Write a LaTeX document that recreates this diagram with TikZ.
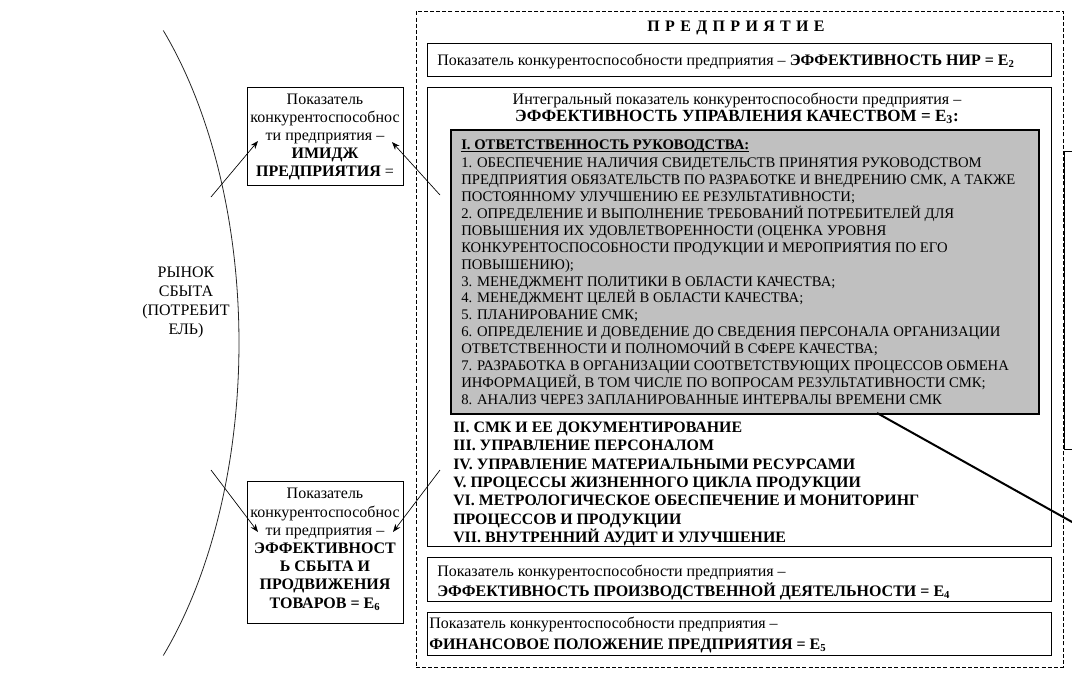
\documentclass[tikz,border=0pt]{standalone}
\usepackage{fontspec}
\setmainfont{Liberation Serif}
\usetikzlibrary{fit,arrows.meta}
\begin{document}
\begin{tikzpicture}[x=0.75pt,y=-0.75pt,
  box/.style={draw, line width=0.7pt, inner sep=0pt},
  dashbox/.style={draw, line width=0.6pt, dash pattern=on 3pt off 1.6pt, inner sep=0pt},
  graybox/.style={draw, line width=0.8pt, fill={rgb,255:red,192;green,192;blue,192}, inner sep=0pt},
  reg/.style={inner sep=0pt, anchor=base west, font=\fontsize{12}{14}\selectfont},
  regc/.style={inner sep=0pt, anchor=base, font=\fontsize{12}{14}\selectfont},
  gline/.style={inner sep=0pt, anchor=base west, font=\fontsize{11}{13}\selectfont},
  bitem/.style={inner sep=0pt, anchor=base west, font=\fontsize{11.9}{14}\selectfont\bfseries},
  arr/.style={-{Stealth[length=6pt,width=4.5pt]}, line width=0.5pt},
  thick line/.style={line width=1.5pt}
]
\useasboundingbox (0,0) rectangle (1072,675);

% market arc
\draw[line width=0.6pt, black!85] plot[domain=-46.9:46.9, samples=80] ({239*cos(\x)}, {343+428*sin(\x)});
\node[regc] (m1) at (186,277) {РЫНОК};
\node[regc] (m2) at (186,296) {СБЫТА};
\node[regc] (m3) at (186,315) {(ПОТРЕБИТ};
\node[regc] (m4) at (186,334) {ЕЛЬ)};

% enterprise dashed frame
\node[dashbox, fit={(416,11) (1063,667)}] (ent) {};
\node[regc, font=\fontsize{12}{14}\selectfont\bfseries] (title) at (736,31) {П\,\,Р\,\,Е\,\,Д\,\,П\,\,Р\,\,И\,\,Я\,\,Т\,\,И\,\,Е};

% E2 box
\node[box, fit={(427,43) (1051,76)}] (e2box) {};
\node[reg] (e2t) at (437,65) {Показатель конкурентоспособности предприятия – \textbf{ЭФФЕКТИВНОСТЬ НИР = E\textsubscript{2}}};

% integral box
\node[box, fit={(427,87) (1051,546)}] (e3box) {};
\node[regc] (e3a) at (737,104) {Интегральный показатель конкурентоспособности предприятия –};
\node[regc, font=\fontsize{12.8}{14}\selectfont\bfseries] (e3b) at (737,121) {ЭФФЕКТИВНОСТЬ УПРАВЛЕНИЯ КАЧЕСТВОМ = E\textsubscript{3}:};

% gray box
\node[graybox, fit={(451,130) (1039,414)}] (gbox) {};
\node[gline, font=\fontsize{11}{13}\selectfont\bfseries] (ghead) at (461,149) {I. ОТВЕТСТВЕННОСТЬ РУКОВОДСТВА:};
\draw[line width=0.8pt] ([yshift=-1.6pt]ghead.base west) -- ([yshift=-1.6pt]ghead.base east);
\foreach \t [count=\i from 0] in {
  {1. ОБЕСПЕЧЕНИЕ НАЛИЧИЯ СВИДЕТЕЛЬСТВ ПРИНЯТИЯ РУКОВОДСТВОМ},
  {ПРЕДПРИЯТИЯ ОБЯЗАТЕЛЬСТВ ПО РАЗРАБОТКЕ И ВНЕДРЕНИЮ СМК, А ТАКЖЕ},
  {ПОСТОЯННОМУ УЛУЧШЕНИЮ ЕЕ РЕЗУЛЬТАТИВНОСТИ;},
  {2. ОПРЕДЕЛЕНИЕ И ВЫПОЛНЕНИЕ ТРЕБОВАНИЙ ПОТРЕБИТЕЛЕЙ ДЛЯ},
  {ПОВЫШЕНИЯ ИХ УДОВЛЕТВОРЕННОСТИ (ОЦЕНКА УРОВНЯ},
  {КОНКУРЕНТОСПОСОБНОСТИ ПРОДУКЦИИ И МЕРОПРИЯТИЯ ПО ЕГО},
  {ПОВЫШЕНИЮ);},
  {3. МЕНЕДЖМЕНТ ПОЛИТИКИ В ОБЛАСТИ КАЧЕСТВА;},
  {4. МЕНЕДЖМЕНТ ЦЕЛЕЙ В ОБЛАСТИ КАЧЕСТВА;},
  {5. ПЛАНИРОВАНИЕ СМК;},
  {6. ОПРЕДЕЛЕНИЕ И ДОВЕДЕНИЕ ДО СВЕДЕНИЯ ПЕРСОНАЛА ОРГАНИЗАЦИИ},
  {ОТВЕТСТВЕННОСТИ И ПОЛНОМОЧИЙ В СФЕРЕ КАЧЕСТВА;},
  {7. РАЗРАБОТКА В ОРГАНИЗАЦИИ СООТВЕТСТВУЮЩИХ ПРОЦЕССОВ ОБМЕНА},
  {ИНФОРМАЦИЕЙ, В ТОМ ЧИСЛЕ ПО ВОПРОСАМ РЕЗУЛЬТАТИВНОСТИ СМК;},
  {8. АНАЛИЗ ЧЕРЕЗ ЗАПЛАНИРОВАННЫЕ ИНТЕРВАЛЫ ВРЕМЕНИ СМК}}
  \node[gline] (g\i) at (461,{167.5+16.93*\i}) {\t};

% bold items
\foreach \t [count=\i from 0] in {
  {II. СМК И ЕЕ ДОКУМЕНТИРОВАНИЕ},
  {III. УПРАВЛЕНИЕ ПЕРСОНАЛОМ},
  {IV. УПРАВЛЕНИЕ МАТЕРИАЛЬНЫМИ РЕСУРСАМИ},
  {V. ПРОЦЕССЫ ЖИЗНЕННОГО ЦИКЛА ПРОДУКЦИИ},
  {VI. МЕТРОЛОГИЧЕСКОЕ ОБЕСПЕЧЕНИЕ И МОНИТОРИНГ},
  {ПРОЦЕССОВ И ПРОДУКЦИИ},
  {VII. ВНУТРЕННИЙ АУДИТ И УЛУЧШЕНИЕ}}
  \node[bitem] (b\i) at (453,{432.5+18.33*\i}) {\t};

% E4 box
\node[box, fit={(427,557) (1051,601)}] (e4box) {};
\node[reg] (e4a) at (437,576) {Показатель конкурентоспособности предприятия –};
\node[reg, font=\fontsize{12}{14}\selectfont\bfseries] (e4b) at (437,596) {ЭФФЕКТИВНОСТЬ ПРОИЗВОДСТВЕННОЙ ДЕЯТЕЛЬНОСТИ = E\textsubscript{4}};

% E5 box
\node[box, fit={(427,612) (1051,655)}] (e5box) {};
\node[reg] (e5a) at (429,628) {Показатель конкурентоспособности предприятия –};
\node[reg, font=\fontsize{12}{14}\selectfont\bfseries] (e5b) at (429,649) {ФИНАНСОВОЕ ПОЛОЖЕНИЕ ПРЕДПРИЯТИЯ = E\textsubscript{5}};

% right partial box
\node[box, fit={(1064,151) (1100,449)}] (rbox) {};

% image box
\node[box, fit={(247,87) (403,185)}] (imgbox) {};
\node[regc] (i1) at (325,104) {Показатель};
\node[regc] (i2) at (325,122) {конкурентоспособнос};
\node[regc] (i3) at (325,140) {ти предприятия –};
\node[regc, font=\fontsize{12}{14}\selectfont\bfseries] (i4) at (325,158) {ИМИДЖ};
\node[regc] (i5) at (325,176) {\textbf{ПРЕДПРИЯТИЯ} =};

% sales box
\node[box, fit={(247,481) (403,623)}] (salbox) {};
\node[regc] (s1) at (325,498) {Показатель};
\node[regc] (s2) at (325,517) {конкурентоспособнос};
\node[regc] (s3) at (325,535) {ти предприятия –};
\node[regc, font=\fontsize{12}{14}\selectfont\bfseries] (s4) at (325,553) {ЭФФЕКТИВНОСТ};
\node[regc, font=\fontsize{12}{14}\selectfont\bfseries] (s5) at (325,571) {Ь СБЫТА И};
\node[regc, font=\fontsize{12}{14}\selectfont\bfseries] (s6) at (325,589) {ПРОДВИЖЕНИЯ};
\node[regc, font=\fontsize{12}{14}\selectfont\bfseries] (s7) at (325,608) {ТОВАРОВ = E\textsubscript{6}};

% arrows
\coordinate (a1s) at (211,197);
\coordinate (a1e) at (258,141);
\coordinate (a2s) at (440,195);
\coordinate (a2e) at (392,142);
\coordinate (a3s) at (211,470);
\coordinate (a3e) at (258,532);
\coordinate (a4s) at (440,470);
\coordinate (a4e) at (393,532);
\draw[arr] (a1s) -- (a1e);
\draw[arr] (a2s) -- (a2e);
\draw[arr] (a3s) -- (a3e);
\draw[arr] (a4s) -- (a4e);

% thick line from gray box
\coordinate (tl1) at (877,413);
\coordinate (tl2) at (1090,532);
\draw[thick line] (tl1) -- (tl2);
\end{tikzpicture}
\end{document}
